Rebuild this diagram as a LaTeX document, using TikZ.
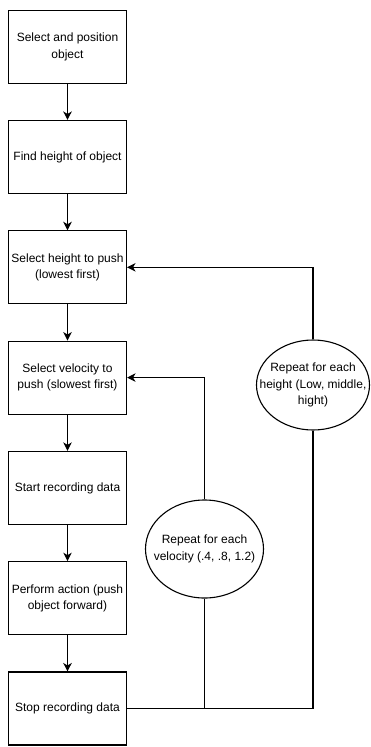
\documentclass[tikz,border=0pt]{standalone}
\usepackage{fontspec}
\setmainfont{Liberation Sans}
\usetikzlibrary{arrows.meta,shapes.geometric}
\begin{document}
\begin{tikzpicture}[x=1pt,y=-1pt,
  every node/.style={font=\fontsize{12}{16.5}\selectfont, align=center, inner sep=0pt},
  stepbox/.style={draw, line width=1.1pt, minimum width=118pt, minimum height=73pt},
  loopnode/.style={draw, ellipse, line width=1.1pt, inner sep=-25pt},
  link/.style={line width=1.1pt, -{Stealth[length=8.5pt,width=8.5pt,inset=2.5pt]}},
  wire/.style={line width=1.1pt}]
\useasboundingbox (0,0) rectangle (371,747);

% main sequence of steps
\node[stepbox] (s1) at (67.5,46.7)  {Select and position\\object};
\node[stepbox] (s2) at (67.5,157)   {Find height of object};
\node[stepbox] (s3) at (67.5,267.3) {Select height to push\\(lowest first)};
\node[stepbox] (s4) at (67.5,377.6) {Select velocity to\\push (slowest first)};
\node[stepbox] (s5) at (67.5,487.9) {Start recording data};
\node[stepbox] (s6) at (67.5,598.2) {Perform action (push\\object forward)};
\node[stepbox] (s7) at (67.5,708.5) {Stop recording data};

% loop annotations
\node[loopnode, minimum width=118pt, minimum height=98pt] (lv) at (204.5,549) {Repeat for each\\velocity (.4, .8, 1.2)};
\node[loopnode, minimum width=113pt, minimum height=90pt] (lh) at (313,385) {Repeat for each\\height (Low, middle,\\hight)};

% forward arrows
\draw[link] (s1) -- (s2);
\draw[link] (s2) -- (s3);
\draw[link] (s3) -- (s4);
\draw[link] (s4) -- (s5);
\draw[link] (s5) -- (s6);
\draw[link] (s6) -- (s7);

% loop-back connectors
\coordinate (jv) at (lv.south |- s7.east);
\coordinate (jh) at (lh.south |- s7.east);
\draw[wire] (s7.east) -- (jh);
\draw[wire] (lv.south) -- (jv);
\draw[wire] (lh.south) -- (jh);
\draw[link] (lv.north) |- (s4.east);
\draw[link] (lh.north) |- (s3.east);
\end{tikzpicture}
\end{document}
